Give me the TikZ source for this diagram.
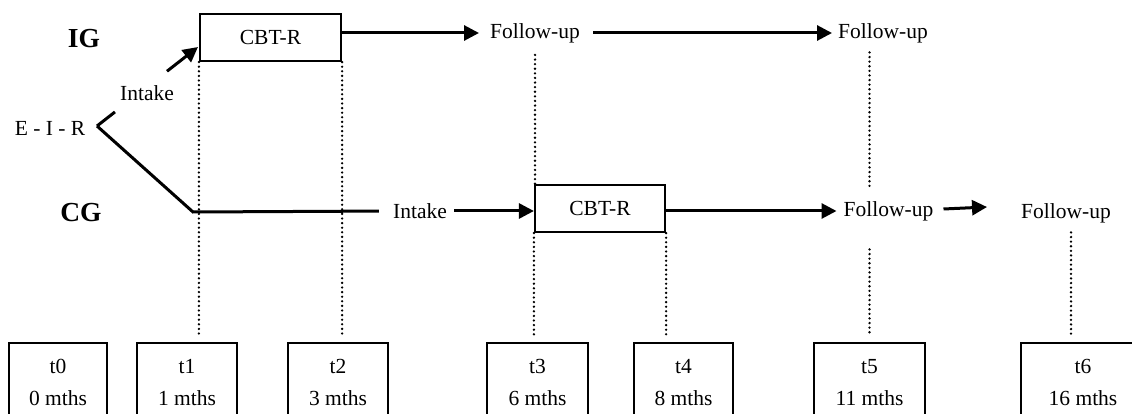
\documentclass[tikz,border=0pt]{standalone}
\usepackage{fontspec}
\setmainfont{Liberation Serif}
\usetikzlibrary{arrows.meta,calc}
\begin{document}
\begin{tikzpicture}[x=1pt,y=-1pt,
  every node/.style={font=\fontsize{21.5}{25}\selectfont, inner sep=0pt},
  box/.style={draw, line width=2.2pt},
  tbox/.style={box, anchor=north, align=center, inner ysep=16pt, inner xsep=0pt,
    font=\fontsize{21.5}{32}\selectfont},
  conn/.style={line width=3pt},
  arr/.style={conn, -{Triangle[length=15pt,width=15pt]}},
  dots/.style={line width=2.6pt, line cap=round, dash pattern=on 0pt off 4.6pt},
  lbl/.style={font=\fontsize{27.5}{30}\selectfont\bfseries}]
\useasboundingbox (0,0) rectangle (1132,414);
\clip (0,0) rectangle (1132,414);

% group labels
\node[lbl] (IG) at (84,39) {IG};
\node[lbl] (CG) at (81,213) {CG};

% IG row
\node[box, minimum width=141pt, minimum height=47pt] (cbt1) at (270.5,37.5) {CBT-R};
\node (fu1) at (535,33) {Follow-up};
\node (fu2) at (883,33) {Follow-up};

% start
\node (eir) at (50,128) {E - I - R};
\coordinate (v) at (97,126);
\node (in1) at (147,93) {Intake};
\coordinate (tip1) at (198,47);
\coordinate (c1) at (193,212);

% CG row
\node (in2) at (420,211) {Intake};
\node[box, minimum width=130pt, minimum height=47pt] (cbt2) at (600,208.5) {CBT-R};
\node (fu3) at (888.5,211) {Follow-up};
\node (fu4) at (1066,213) {Follow-up};

% time boxes
\node[tbox, minimum width=98pt]  (t0) at (58,342)   {t0\\0 mths};
\node[tbox, minimum width=100pt] (t1) at (187,342)  {t1\\1 mths};
\node[tbox, minimum width=100pt] (t2) at (338,342)  {t2\\3 mths};
\node[tbox, minimum width=101pt] (t3) at (537.5,342) {t3\\6 mths};
\node[tbox, minimum width=99pt]  (t4) at (683.5,342) {t4\\8 mths};
\node[tbox, minimum width=111pt] (t5) at (869.5,342) {t5\\11 mths};
\node[tbox, minimum width=124pt] (t6) at (1083,342) {t6\\16 mths};

% connectors IG
\draw[conn] (v) -- ($(v)!0.178!(tip1)$);
\draw[arr] ($(v)!0.693!(tip1)$) -- (tip1);
\draw[arr, shorten >=11pt] (cbt1.east |- fu1.west) -- (fu1.west);
\draw[arr, shorten <=13pt, shorten >=6pt] (fu1.east) -- (fu2.west);

% connectors CG
\draw[conn, shorten >=14pt] (v) -- (c1) -- (in2.west);
\draw[arr, shorten <=7pt] (in2.east) -- (cbt2.west |- in2.east);
\draw[arr, shorten >=7pt] (cbt2.east |- fu3.west) -- (fu3.west);
\draw[arr] ([xshift=10pt,yshift=2pt]fu3.east) -- ([xshift=-34pt,yshift=6pt]fu4.west);

% dotted time lines
\draw[dots, shorten >=6pt] (cbt1.south west) -- (cbt1.south west |- t1.north);
\draw[dots, shorten >=6pt] (cbt1.south east) -- (cbt1.south east |- t2.north);
\draw[dots, shorten <=12pt] (fu1.south) -- (fu1.south |- cbt2.north);
\draw[dots, shorten >=6pt] (cbt2.south west) -- (cbt2.south west |- t3.north);
\draw[dots, shorten >=6pt] (cbt2.south east) -- (cbt2.south east |- t4.north);
\draw[dots, shorten <=9.5pt, shorten >=13.5pt] (t5.north |- fu2.south) -- (t5.north |- fu3.north);
\draw[dots, shorten <=28.5pt, shorten >=6pt] (t5.north |- fu3.south) -- (t5.north);
\draw[dots, shorten <=9.5pt, shorten >=6pt] ([xshift=5pt]fu4.south) -- ([xshift=5pt]fu4.south |- t6.north);
\end{tikzpicture}
\end{document}
